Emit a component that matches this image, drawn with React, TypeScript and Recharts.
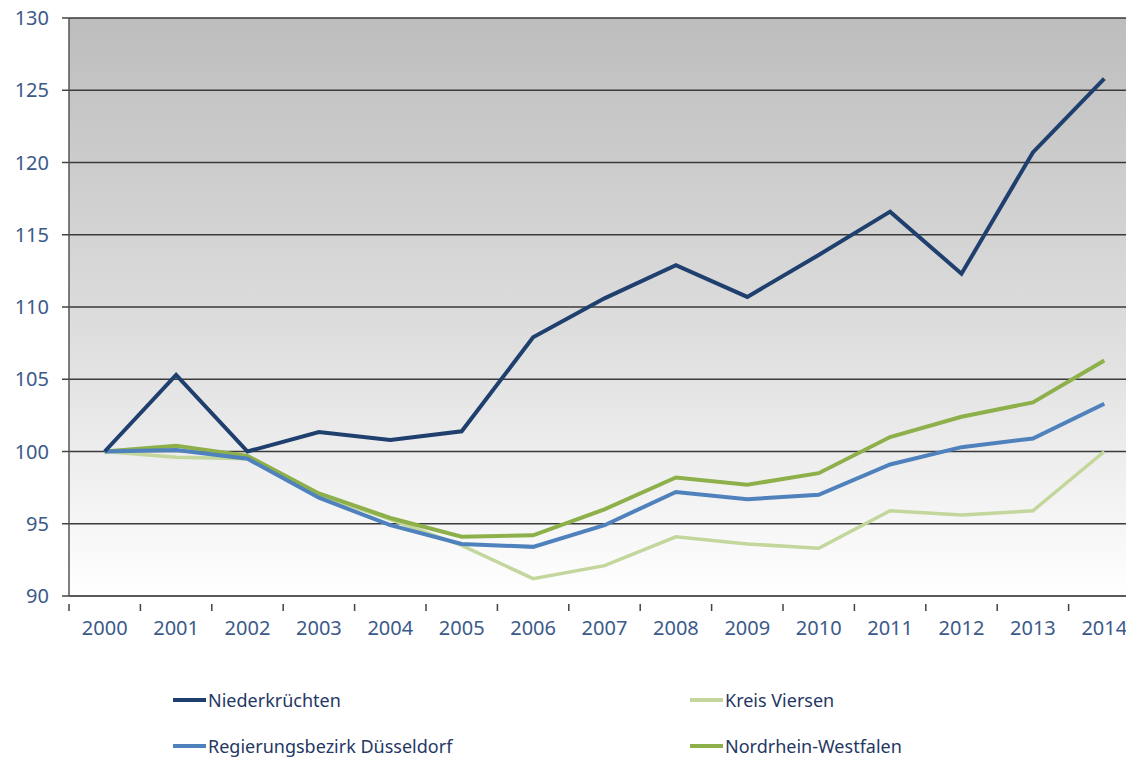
import { LineChart, Line, XAxis, YAxis, CartesianGrid } from 'recharts'

const years = ['2000', '2001', '2002', '2003', '2004', '2005', '2006', '2007', '2008', '2009', '2010', '2011', '2012', '2013', '2014']

const niederkruechten = [100, 105.3, 100.0, 101.35, 100.8, 101.4, 107.9, 110.6, 112.9, 110.7, 113.6, 116.6, 112.3, 120.7, 125.8]
const kreisViersen = [100, 99.6, 99.5, 97.0, 95.3, 93.5, 91.2, 92.1, 94.1, 93.6, 93.3, 95.9, 95.6, 95.9, 100.0]
const regierungsbezirk = [100, 100.1, 99.5, 96.8, 94.9, 93.6, 93.4, 94.9, 97.2, 96.7, 97.0, 99.1, 100.3, 100.9, 103.3]
const nrw = [100, 100.4, 99.7, 97.1, 95.4, 94.1, 94.2, 96.0, 98.2, 97.7, 98.5, 101.0, 102.4, 103.4, 106.3]

const yTicks = [90, 95, 100, 105, 110, 115, 120, 125, 130]

const series = [
  { key: 'nied', name: 'Niederkrüchten', color: '#1f3f6e', width: 4 },
  { key: 'kreis', name: 'Kreis Viersen', color: '#c3d69b', width: 3.5 },
  { key: 'regbez', name: 'Regierungsbezirk Düsseldorf', color: '#4f81bd', width: 4 },
  { key: 'nrw', name: 'Nordrhein-Westfalen', color: '#8db04a', width: 4 },
]

const data = years.map((year, i) => ({
  year,
  nied: niederkruechten[i],
  kreis: kreisViersen[i],
  regbez: regierungsbezirk[i],
  nrw: nrw[i],
}))

const CHART_W = 1140
const CHART_H = 680
const Y_AXIS_W = 69
const band = (CHART_W - Y_AXIS_W) / years.length
const labelColor = '#3b5a8a'
const font = '"Noto Sans", sans-serif'

// tick marks sit on the category boundaries, labels in the middle
const YearTick = (props: any) => {
  const { x, y, payload } = props
  const bx = x - band / 2
  return (
    <g>
      <line x1={bx} y1={y} x2={bx} y2={y + 7} stroke="#444" strokeWidth={1.5} />
      <text x={x} y={y + 31} textAnchor="middle" fill={labelColor} fontSize={20} fontFamily={font}>
        {payload.value}
      </text>
    </g>
  )
}

export default function App() {
  return (
    <div style={{ margin: '-8px 0 0 -8px', width: 1134, height: 758, overflow: 'hidden', position: 'relative', background: '#fff' }}>
      <LineChart width={CHART_W} height={CHART_H} data={data} margin={{ top: 18, right: 0, bottom: 0, left: 0 }}>
        <defs>
          <linearGradient id="plotBg" x1="0" y1="0" x2="0" y2="1">
            <stop offset="0%" stopColor="#bdbdbd" />
            <stop offset="55%" stopColor="#dedede" />
            <stop offset="100%" stopColor="#ffffff" />
          </linearGradient>
        </defs>
        <CartesianGrid vertical={false} fill="url(#plotBg)" fillOpacity={1} stroke="#3a3a3a" strokeWidth={1.5} />
        <XAxis
          dataKey="year"
          scale="band"
          height={84}
          axisLine={{ stroke: '#555', strokeWidth: 1.5 }}
          tickLine={false}
          tick={<YearTick />}
          interval={0}
        />
        <YAxis
          domain={[90, 130]}
          ticks={yTicks}
          width={Y_AXIS_W}
          axisLine={{ stroke: '#555', strokeWidth: 1.5 }}
          tickLine={{ stroke: '#444', strokeWidth: 1.5 }}
          tickSize={7}
          tickMargin={13}
          tick={{ fill: labelColor, fontSize: 20, fontFamily: font }}
        />
        {[1, 3, 2, 0].map((i) => (
          <Line
            key={series[i].key}
            dataKey={series[i].key}
            name={series[i].name}
            type="linear"
            stroke={series[i].color}
            strokeWidth={series[i].width}
            dot={false}
            isAnimationActive={false}
          />
        ))}
      </LineChart>
      {series.map((s, i) => (
        <div
          key={s.key}
          style={{
            position: 'absolute',
            left: i % 2 === 0 ? 173 : 690,
            top: i < 2 ? 690 : 736,
            height: 20,
            lineHeight: '20px',
            display: 'flex',
            alignItems: 'center',
            fontFamily: font,
            fontSize: 18,
            color: '#1f3864',
          }}
        >
          <span style={{ display: 'inline-block', width: 33, height: 4, background: s.color, marginRight: 2 }} />
          {s.name}
        </div>
      ))}
    </div>
  )
}
